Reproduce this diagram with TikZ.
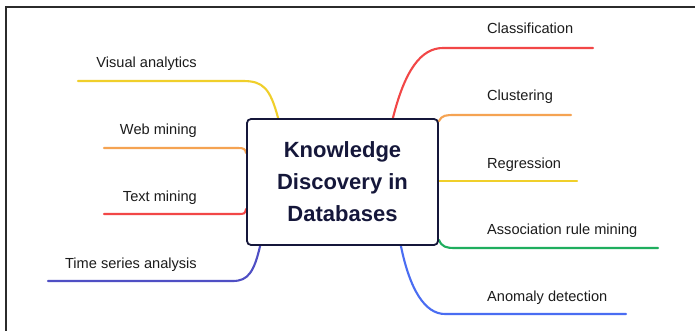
\documentclass[tikz,border=0pt]{standalone}
\usepackage{fontspec}
\setmainfont{Liberation Sans}
\usetikzlibrary{calc}
\pgfdeclarelayer{bg}
\pgfsetlayers{bg,main}
\definecolor{cyel}{HTML}{F0CF2A}
\definecolor{cora}{HTML}{F5A352}
\definecolor{cred}{HTML}{F24747}
\definecolor{cgrn}{HTML}{1FAE5E}
\definecolor{cblu}{HTML}{4A6DF2}
\definecolor{cind}{HTML}{4F4FC4}
\definecolor{navy}{HTML}{15173A}
\definecolor{frame}{HTML}{2B2B2B}
\definecolor{lbl}{HTML}{1C1C1C}
\tikzset{
  branch/.style={line width=2.1pt, line cap=round},
  lab/.style={inner sep=0pt, text=lbl, font=\fontsize{14.6}{17}\selectfont},
  core/.style={draw=navy, line width=1.8pt, rounded corners=4pt, fill=white,
    minimum width=191pt, minimum height=126pt, inner sep=0pt, align=center,
    text=navy, font=\fontsize{22}{32}\selectfont\bfseries},
}
\begin{document}
\begin{tikzpicture}[x=1pt,y=-1pt]
\useasboundingbox (0,0) rectangle (695,331);
\begin{pgfonlayer}{bg}
\fill[white] (0,0) rectangle (695,331);
\end{pgfonlayer}
\draw[frame, line width=1.6pt] (6,331) -- (6,7) -- (695,7);

\node[core] (kdd) at (342.5,182) {Knowledge\\Discovery in\\Databases};

% left labels
\node[lab, anchor=base east] (va) at (197,68) {Visual analytics};
\node[lab, anchor=base east] (wm) at (197,135) {Web mining};
\node[lab, anchor=base east] (tm) at (197,201) {Text mining};
\node[lab, anchor=base east] (ts) at (197,268) {Time series analysis};
% right labels
\node[lab, anchor=base west] (cl) at (487,34) {Classification};
\node[lab, anchor=base west] (cu) at (487,101) {Clustering};
\node[lab, anchor=base west] (rg) at (487,168) {Regression};
\node[lab, anchor=base west] (ar) at (487,234) {Association rule mining};
\node[lab, anchor=base west] (ad) at (487,301) {Anomaly detection};

% free ends of branches
\coordinate (va1) at (243,81);  \coordinate (va0) at (78,81);
\coordinate (wm1) at (238,148); \coordinate (wm0) at (104,148);
\coordinate (tm1) at (238,214); \coordinate (tm0) at (104,214);
\coordinate (ts1) at (233,281); \coordinate (ts0) at (48,281);
\coordinate (cl1) at (443,48);  \coordinate (cl0) at (593,48);
\coordinate (cu1) at (455,115); \coordinate (cu0) at (571,115);
\coordinate (rg0) at (577,181);
\coordinate (ar1) at (455,248); \coordinate (ar0) at (658,248);
\coordinate (ad1) at (445,314); \coordinate (ad0) at (626,314);

\begin{pgfonlayer}{bg}
\draw[branch, cyel] ($(kdd.north west)+(32,0)$) .. controls +(-8,-30) and +(20,0) .. (va1) -- (va0);
\draw[branch, cora] ($(kdd.west)+(0,-29)$) .. controls +(-1,-4) and +(6,0) .. (wm1) -- (wm0);
\draw[branch, cred] ($(kdd.west)+(0,27)$) .. controls +(-1,5) and +(6,0) .. (tm1) -- (tm0);
\draw[branch, cind] ($(kdd.south west)+(14,0)$) .. controls +(-6,26) and +(15,0) .. (ts1) -- (ts0);
\draw[branch, cred] ($(kdd.north east)+(-46,0)$) .. controls +(12,-48) and +(-22,0) .. (cl1) -- (cl0);
\draw[branch, cora] ($(kdd.north east)+(0,3)$) .. controls +(3,-6) and +(-9,0) .. (cu1) -- (cu0);
\draw[branch, cyel] (kdd.east |- rg0) -- (rg0);
\draw[branch, cgrn] ($(kdd.south east)+(0,-6)$) .. controls +(3,7) and +(-9,0) .. (ar1) -- (ar0);
\draw[branch, cblu] ($(kdd.south east)+(-38,0)$) .. controls +(9,44) and +(-20,0) .. (ad1) -- (ad0);
\end{pgfonlayer}
\end{tikzpicture}
\end{document}
